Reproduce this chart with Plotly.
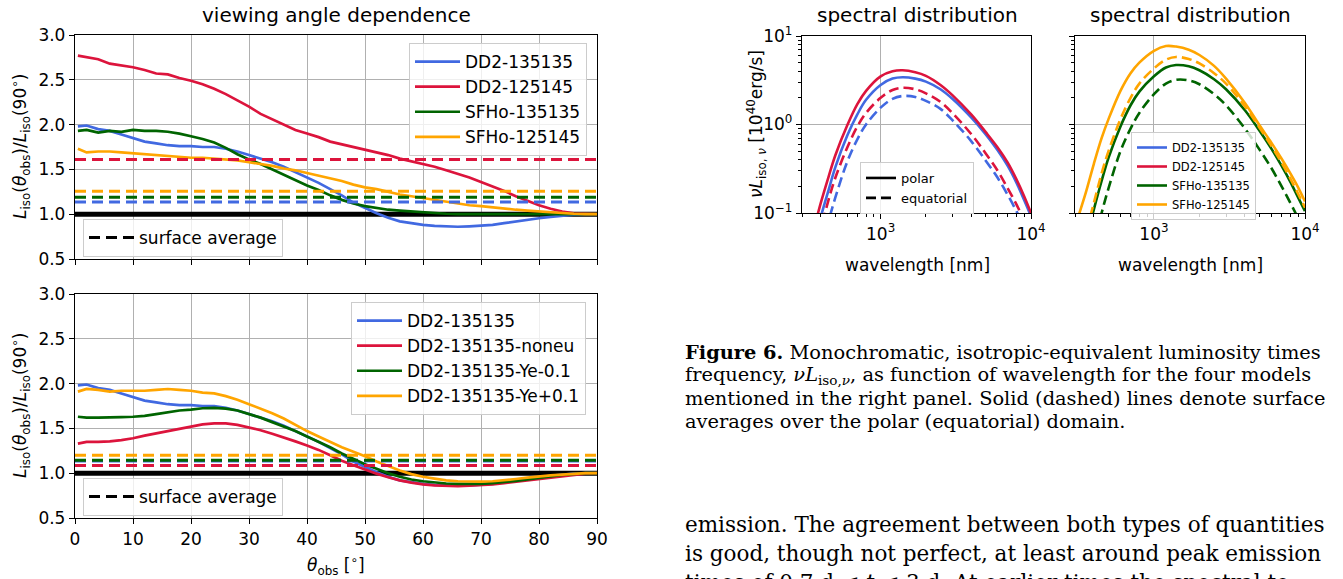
import plotly.graph_objects as go

W, H = 1343, 579
FONT = "DejaVu Sans"
SERIF = "DejaVu Serif"

# ---------------- data: viewing angle dependence ----------------
theta = [0.5, 2, 4, 6, 8, 10, 12, 14, 16, 18,
         20, 22, 24, 26, 28, 30, 32, 34, 36, 38,
         40, 42, 44, 46, 48, 50, 52, 54, 56, 58,
         60, 62, 64, 66, 68, 70, 72, 74, 76, 78,
         80, 82, 84, 86, 88, 90]

top_names = ["DD2-135135", "DD2-125145", "SFHo-135135", "SFHo-125145"]
top_dd2_135135 = [1.98, 1.99, 1.95, 1.93, 1.89, 1.85, 1.81, 1.79, 1.77, 1.76,
                  1.76, 1.75, 1.75, 1.73, 1.70, 1.66, 1.62, 1.58, 1.53, 1.47,
                  1.41, 1.35, 1.28, 1.21, 1.13, 1.07, 1.01, 0.96, 0.92, 0.90,
                  0.88, 0.87, 0.865, 0.86, 0.865, 0.87, 0.88, 0.90, 0.92, 0.94,
                  0.955, 0.97, 0.985, 0.995, 1.0, 1.0]
top_dd2_125145 = [2.77, 2.75, 2.73, 2.68, 2.66, 2.64, 2.61, 2.57, 2.56, 2.52,
                  2.49, 2.45, 2.40, 2.34, 2.27, 2.20, 2.12, 2.06, 2.00, 1.94,
                  1.90, 1.86, 1.81, 1.78, 1.75, 1.72, 1.69, 1.66, 1.62, 1.59,
                  1.56, 1.53, 1.49, 1.45, 1.41, 1.36, 1.31, 1.26, 1.20, 1.15,
                  1.10, 1.06, 1.03, 1.01, 1.005, 1.0]
top_sfho_135135 = [1.93, 1.94, 1.91, 1.93, 1.92, 1.94, 1.93, 1.93, 1.92, 1.90,
                   1.87, 1.84, 1.80, 1.74, 1.67, 1.61, 1.56, 1.50, 1.44, 1.38,
                   1.32, 1.27, 1.21, 1.16, 1.12, 1.09, 1.07, 1.05, 1.04, 1.03,
                   1.02, 1.01, 1.005, 1.0, 1.0, 1.0, 1.0, 1.0, 1.0, 1.0,
                   1.0, 1.0, 1.0, 1.0, 1.0, 1.0]
top_sfho_125145 = [1.73, 1.69, 1.70, 1.70, 1.69, 1.68, 1.67, 1.66, 1.65, 1.64,
                   1.63, 1.63, 1.62, 1.61, 1.60, 1.58, 1.56, 1.54, 1.51, 1.49,
                   1.46, 1.43, 1.40, 1.37, 1.33, 1.30, 1.28, 1.25, 1.22, 1.20,
                   1.18, 1.16, 1.14, 1.12, 1.10, 1.09, 1.075, 1.06, 1.05, 1.04,
                   1.03, 1.02, 1.01, 1.005, 1.0, 1.0]
top_avg = [1.135, 1.61, 1.19, 1.255]

bot_names = ["DD2-135135", "DD2-135135-noneu", "DD2-135135-Ye-0.1", "DD2-135135-Ye+0.1"]
bot_dd2_135135 = top_dd2_135135
bot_noneu = [1.33, 1.35, 1.35, 1.355, 1.37, 1.39, 1.42, 1.445, 1.47, 1.50,
             1.525, 1.545, 1.555, 1.555, 1.54, 1.51, 1.48, 1.44, 1.40, 1.355,
             1.31, 1.26, 1.20, 1.14, 1.09, 1.04, 0.995, 0.955, 0.92, 0.895,
             0.875, 0.865, 0.86, 0.855, 0.86, 0.865, 0.875, 0.89, 0.905, 0.92,
             0.94, 0.955, 0.97, 0.985, 0.995, 1.0]
bot_ye_m01 = [1.63, 1.62, 1.62, 1.62, 1.625, 1.63, 1.64, 1.66, 1.68, 1.70,
              1.71, 1.725, 1.73, 1.72, 1.70, 1.66, 1.62, 1.57, 1.52, 1.47,
              1.41, 1.35, 1.29, 1.22, 1.16, 1.10, 1.05, 1.00, 0.96, 0.93,
              0.91, 0.895, 0.885, 0.88, 0.88, 0.88, 0.89, 0.90, 0.915, 0.93,
              0.95, 0.965, 0.98, 0.99, 1.0, 1.0]
bot_ye_p01 = [1.91, 1.94, 1.93, 1.91, 1.92, 1.92, 1.92, 1.93, 1.94, 1.93,
              1.92, 1.90, 1.89, 1.86, 1.82, 1.77, 1.72, 1.67, 1.61, 1.54,
              1.47, 1.41, 1.35, 1.29, 1.24, 1.19, 1.13, 1.08, 1.03, 0.99,
              0.96, 0.94, 0.92, 0.91, 0.905, 0.905, 0.91, 0.92, 0.935, 0.95,
              0.965, 0.975, 0.985, 0.995, 1.0, 1.0]
bot_avg = [1.135, 1.085, 1.145, 1.20]

ref_level = [1.0, 1.0]
ref_theta = [0, 90]
theta_ticks = [0, 10, 20, 30, 40, 50, 60, 70, 80, 90]
ratio_ticks = [0.5, 1.0, 1.5, 2.0, 2.5, 3.0]
ratio_ticklabels = ["0.5", "1.0", "1.5", "2.0", "2.5", "3.0"]

# ---------------- data: spectral distribution ----------------
wavelength = [300, 350, 400, 450, 500, 600, 700, 800, 1000, 1200, 1400,
              1700, 2000, 2500, 3000, 4000, 5000, 6000, 7000, 8000, 9000, 10000]
dd2_135135_polar = [0.012, 0.035, 0.09, 0.18, 0.33, 0.75, 1.3, 1.9, 2.8, 3.3, 3.42,
                    3.3, 3.05, 2.5, 1.95, 1.2, 0.77, 0.51, 0.34, 0.22, 0.14, 0.092]
dd2_135135_equat = [0.003, 0.012, 0.035, 0.08, 0.15, 0.38, 0.68, 1.0, 1.55, 1.95, 2.1,
                    2.05, 1.85, 1.5, 1.12, 0.65, 0.39, 0.25, 0.16, 0.105, 0.07, 0.047]
dd2_125145_polar = [0.02, 0.055, 0.13, 0.255, 0.45, 0.98, 1.7, 2.4, 3.5, 4.0, 4.1,
                    3.9, 3.55, 2.8, 2.15, 1.3, 0.82, 0.55, 0.37, 0.24, 0.155, 0.1]
dd2_125145_equat = [0.008, 0.025, 0.065, 0.14, 0.25, 0.55, 0.95, 1.35, 2.0, 2.45, 2.6,
                    2.5, 2.25, 1.8, 1.35, 0.78, 0.47, 0.3, 0.19, 0.125, 0.083, 0.055]
sfho_135135_polar = [0.015, 0.045, 0.11, 0.23, 0.42, 0.95, 1.65, 2.35, 3.5, 4.4, 4.7,
                     4.55, 4.1, 3.25, 2.5, 1.45, 0.85, 0.53, 0.34, 0.225, 0.15, 0.105]
sfho_135135_equat = [0.004, 0.015, 0.045, 0.1, 0.19, 0.5, 0.9, 1.35, 2.2, 2.9, 3.2,
                     3.15, 2.85, 2.2, 1.65, 0.9, 0.52, 0.32, 0.2, 0.13, 0.087, 0.058]
sfho_125145_polar = [0.07, 0.16, 0.36, 0.7, 1.15, 2.4, 3.8, 5.0, 6.8, 7.7, 7.6,
                     7.0, 6.1, 4.6, 3.3, 1.75, 0.98, 0.62, 0.41, 0.28, 0.195, 0.135]
sfho_125145_equat = [0.02, 0.055, 0.13, 0.28, 0.5, 1.15, 2.0, 2.9, 4.3, 5.4, 5.8,
                     5.5, 4.9, 3.8, 2.9, 1.6, 0.92, 0.57, 0.37, 0.245, 0.165, 0.115]

wl_ticks = [1000, 10000]
wl_ticklabels = ["10<sup>3</sup>", "10<sup>4</sup>"]
wl_minor = [300, 400, 500, 600, 700, 800, 900, 2000, 3000, 4000, 5000, 6000, 7000, 8000, 9000]
lum_ticks = [0.1, 1, 10]
lum_ticklabels = ["10<sup>−1</sup>", "10<sup>0</sup>", "10<sup>1</sup>"]
lum_minor = [0.2, 0.3, 0.4, 0.5, 0.6, 0.7, 0.8, 0.9, 2, 3, 4, 5, 6, 7, 8, 9]

COLORS = ["#4169E1", "#DC143C", "#006400", "#FFA500"]

# ---------------- helpers for layout positions ----------------
def fx(p):
    return p / W

def fy(p):
    return 1 - p / H

fig = go.Figure()

def angle_panel(xa, ya, curves, names, avgs, leg_main, leg_avg, avg_order):
    fig.add_trace(go.Scatter(x=ref_theta, y=ref_level, mode="lines", xaxis=xa, yaxis=ya,
                             line=dict(color="black", width=5), showlegend=False, hoverinfo="skip"))
    for i, (c, n) in enumerate(zip(curves, names)):
        fig.add_trace(go.Scatter(x=theta, y=c, mode="lines", xaxis=xa, yaxis=ya, name=n,
                                 line=dict(color=COLORS[i], width=2.7), legend=leg_main,
                                 legendgroup=leg_main + str(i), legendrank=i + 1))
    for i in avg_order:
        fig.add_trace(go.Scatter(x=ref_theta, y=[avgs[i], avgs[i]], mode="lines", xaxis=xa, yaxis=ya,
                                 line=dict(color=COLORS[i], width=3, dash="11px,6px"),
                                 showlegend=False, hoverinfo="skip"))
    fig.add_trace(go.Scatter(x=[None], y=[None], mode="lines", xaxis=xa, yaxis=ya,
                             name="surface average", legend=leg_avg,
                             line=dict(color="black", width=3, dash="11px,6px")))

angle_panel("x", "y", [top_dd2_135135, top_dd2_125145, top_sfho_135135, top_sfho_125145],
            top_names, top_avg, "legend", "legend2", [0, 2, 3, 1])
angle_panel("x2", "y2", [bot_dd2_135135, bot_noneu, bot_ye_m01, bot_ye_p01],
            bot_names, bot_avg, "legend3", "legend4", [0, 1, 2, 3])

# spectral panels
spec_left = [(dd2_135135_polar, 0, "solid", "DD2-135135", True),
             (dd2_125145_polar, 1, "solid", "DD2-125145", True),
             (dd2_135135_equat, 0, "10px,5px", None, False),
             (dd2_125145_equat, 1, "10px,5px", None, False)]
spec_right = [(sfho_135135_polar, 2, "solid", "SFHo-135135", True),
              (sfho_125145_polar, 3, "solid", "SFHo-125145", True),
              (sfho_135135_equat, 2, "10px,5px", None, False),
              (sfho_125145_equat, 3, "10px,5px", None, False)]
for xa, ya, group in (("x3", "y3", spec_left), ("x4", "y4", spec_right)):
    for vals, ci, dash, name, show in group:
        fig.add_trace(go.Scatter(x=wavelength, y=vals, mode="lines", xaxis=xa, yaxis=ya,
                                 line=dict(color=COLORS[ci], width=2.6, dash=dash, shape="spline", smoothing=1.0),
                                 name=name, showlegend=show, legend="legend6",
                                 legendgroup="s" + str(ci), legendrank=ci + 1))
fig.add_trace(go.Scatter(x=[None], y=[None], mode="lines", xaxis="x3", yaxis="y3", name="polar",
                         legend="legend5", legendgroup="p", line=dict(color="black", width=2.6)))
fig.add_trace(go.Scatter(x=[None], y=[None], mode="lines", xaxis="x3", yaxis="y3", name="equatorial",
                         legend="legend5", legendgroup="e", line=dict(color="black", width=2.6, dash="10px,5px")))

# ---------------- axes ----------------
GRID = "#b0b0b0"
def lin_x(domain, labels):
    return dict(domain=domain, range=[0, 90], tickvals=theta_ticks, showticklabels=labels,
                ticks="outside", ticklen=5, tickwidth=1.3, tickcolor="black",
                showgrid=True, gridcolor=GRID, gridwidth=1.3, zeroline=False,
                showline=True, linecolor="black", linewidth=1.3, mirror=True,
                tickfont=dict(family=FONT, size=17, color="black"))

def lin_y(domain, anchor):
    return dict(domain=domain, range=[0.5, 3.0], tickvals=ratio_ticks, ticktext=ratio_ticklabels,
                ticks="outside", ticklen=5, tickwidth=1.3, tickcolor="black", anchor=anchor,
                showgrid=True, gridcolor=GRID, gridwidth=1.3, zeroline=False,
                showline=True, linecolor="black", linewidth=1.3, mirror=True,
                tickfont=dict(family=FONT, size=17, color="black"))

def log_x(domain, anchor):
    return dict(domain=domain, type="log", range=[2.4771, 4.0], tickvals=wl_ticks, ticktext=wl_ticklabels,
                ticks="outside", ticklen=5, tickwidth=1.3, tickcolor="black", anchor=anchor,
                minor=dict(tickvals=wl_minor, ticks="outside", ticklen=3, tickwidth=1, tickcolor="black", showgrid=False),
                showgrid=True, gridcolor=GRID, gridwidth=1.3, zeroline=False,
                showline=True, linecolor="black", linewidth=1.3, mirror=True,
                tickfont=dict(family=FONT, size=17, color="black"))

def log_y(domain, anchor, labels):
    return dict(domain=domain, type="log", range=[-1, 1], tickvals=lum_ticks, ticktext=lum_ticklabels,
                showticklabels=labels, anchor=anchor,
                ticks="outside", ticklen=5, tickwidth=1.3, tickcolor="black",
                minor=dict(tickvals=lum_minor, ticks="outside", ticklen=3, tickwidth=1, tickcolor="black", showgrid=False),
                showgrid=True, gridcolor=GRID, gridwidth=1.3, zeroline=False,
                showline=True, linecolor="black", linewidth=1.3, mirror=True,
                tickfont=dict(family=FONT, size=17, color="black"))

LX = [fx(75), fx(597)]
fig.update_layout(
    xaxis=dict(lin_x(LX, False), anchor="y"),
    yaxis=lin_y([fy(259), fy(35)], "x"),
    xaxis2=dict(lin_x(LX, True), anchor="y2"),
    yaxis2=lin_y([fy(518), fy(294)], "x2"),
    xaxis3=log_x([fx(802), fx(1031)], "y3"),
    yaxis3=log_y([fy(213), fy(36)], "x3", True),
    xaxis4=log_x([fx(1075), fx(1305)], "y4"),
    yaxis4=log_y([fy(213), fy(36)], "x4", False),
)

def legend_at(x, y, size, gap, iw=30):
    return dict(x=fx(x), y=fy(y), xanchor="left", yanchor="top", xref="paper", yref="paper",
                bgcolor="rgba(255,255,255,0.8)", bordercolor="#cccccc", borderwidth=1,
                font=dict(family=FONT, size=size, color="black"), tracegroupgap=gap,
                traceorder="grouped", itemwidth=iw)

fig.update_layout(
    legend=legend_at(409, 43, 17, 0, 45),
    legend2=legend_at(83, 219, 17, 0, 45),
    legend3=legend_at(351, 302, 17, 0, 45),
    legend4=legend_at(83, 478, 17, 0, 45),
    legend5=legend_at(860, 162, 13, 0),
    legend6=legend_at(1131, 132, 11.5, 0),
)

# ---------------- text ----------------
ann = []
def text(x, y, s, size, family=FONT, angle=0, xanchor="center"):
    ann.append(dict(x=fx(x), y=fy(y), xref="paper", yref="paper", text=s, showarrow=False,
                    textangle=angle, xanchor=xanchor, yanchor="middle",
                    font=dict(family=family, size=size, color="black")))

text(336, 15, "viewing angle dependence", 20)
text(917, 15, "spectral distribution", 20)
text(1190, 15, "spectral distribution", 20)
ylab = "<i>L</i><sub>iso</sub>(<i>θ</i><sub>obs</sub>)/<i>L</i><sub>iso</sub>(90<sup>∘</sup>)"
text(20, 147, ylab, 17, angle=-90)
text(20, 406, ylab, 17, angle=-90)
text(336, 565, "<i>θ</i><sub>obs</sub> [<sup>∘</sup>]", 17)
text(757, 124, "<i>νL</i><sub>iso, <i>ν</i></sub> [10<sup>40</sup>erg/s]", 17, angle=-90)
text(917, 265, "wavelength [nm]", 17)
text(1190, 265, "wavelength [nm]", 17)

caption = ["<b>Figure 6.</b> Monochromatic, isotropic-equivalent luminosity times",
           "frequency, <i>νL</i><sub>iso,<i>ν</i></sub>, as function of wavelength for the four models",
           "mentioned in the right panel. Solid (dashed) lines denote surface",
           "averages over the polar (equatorial) domain."]
for i, line in enumerate(caption):
    text(683, 352 + 23 * i, line, 19.4, family=SERIF, xanchor="left")
body = ["emission. The agreement between both types of quantities",
        "is good, though not perfect, at least around peak emission",
        "times of 0.7 d ≲ <i>t</i> ≲ 3 d. At earlier times the spectral to"]
for i, line in enumerate(body):
    text(683, 524 + 29 * i, line, 21.5, family=SERIF, xanchor="left")

fig.update_layout(annotations=ann, width=W, height=H,
                  margin=dict(l=0, r=0, t=0, b=0, pad=0, autoexpand=False),
                  plot_bgcolor="white", paper_bgcolor="white", showlegend=True,
                  font=dict(family=FONT, color="black"))
fig.write_html("out.html")
